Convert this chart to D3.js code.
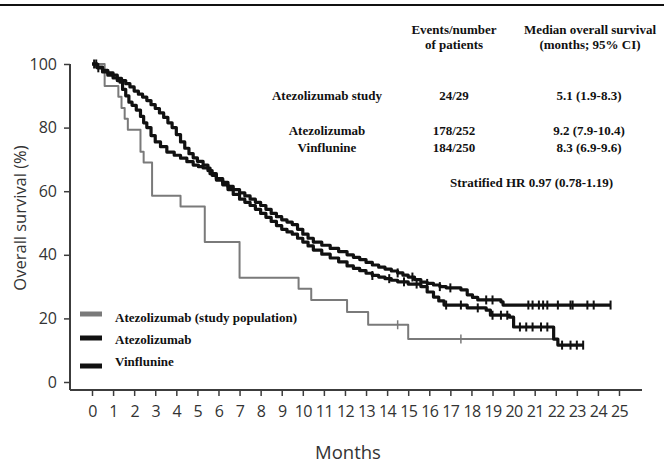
<!DOCTYPE html>
<html>
<head>
<meta charset="utf-8">
<script src="https://cdn.jsdelivr.net/npm/d3@7"></script>
<style>
  html, body { margin: 0; padding: 0; background: #fff; }
  svg { display: block; }
</style>
</head>
<body>
<svg id="chart"></svg>
<script>
// ---- values ----
const xTicks = [0,1,2,3,4,5,6,7,8,9,10,11,12,13,14,15,16,17,18,19,20,21,22,23,24,25];
const yTicks = [0,20,40,60,80,100];

// study population (gray), n = 29
const studyMonths = [0, 0.6, 1.25, 1.4, 1.55, 1.7, 2.3, 2.45, 2.85, 4.2, 5.35, 7.0, 9.8, 10.4, 12.1, 13.1, 15.0];
const studySurv   = [100, 93.1, 89.7, 86.2, 82.8, 79.3, 72.4, 69.0, 58.6, 55.2, 44.0, 32.8, 29.3, 25.8, 22.0, 18.0, 13.5];
const studyEnd = 22.0;
const studyCensor = [14.5, 17.5];

// atezolizumab (black), IMvigor211
const atezoMonths = [0, 0.25, 0.5, 0.75, 1.0, 1.2, 1.33, 1.45, 1.6, 1.75, 1.9, 2.1, 2.3, 2.45, 2.6, 2.8, 3.0, 3.25, 3.55, 3.9,
  4.2, 4.5, 4.8, 5.05, 5.27, 5.6, 5.9, 6.2, 6.45, 6.7, 7.0, 7.25, 7.5, 7.75, 8.0, 8.25, 8.5, 8.75, 9.0, 9.25,
  9.5, 9.75, 10.0, 10.25, 10.5, 10.9, 11.3, 11.7, 12.1, 12.4, 12.7, 13.0, 13.3, 13.6, 13.9, 14.2, 14.5, 14.75, 15.0, 15.3,
  15.6, 15.9, 16.2, 16.5, 16.8, 17.5, 17.8, 18.05, 18.3, 19.4, 19.5];
const atezoSurv = [100, 98.8, 97.5, 96.5, 95.6, 94.8, 94.3, 92, 90, 88, 87, 85.5, 83.5, 81.5, 80, 77.5, 75.5, 74, 72.3, 71.3,
  70.4, 69.3, 68.2, 67.7, 67.3, 65.5, 64, 62.8, 61.5, 60.5, 59.5, 58.5, 57.5, 56.5, 55.5, 54.3, 53, 52, 51, 50.3,
  49.5, 48, 46.5, 45.2, 44, 43, 42, 41, 40, 39.2, 38.5, 37.6, 36.8, 36.1, 35.5, 34.9, 34.3, 33.6, 33, 32.2,
  31.4, 31, 30.5, 30, 29.6, 29, 27.4, 26.6, 25.8, 25.2, 24.2];
const atezoEnd = 24.6;
const atezoCensor = [0.1, 0.3, 14.5, 15.2, 15.9, 16.5, 17.0, 18.7, 19.0, 20.7, 20.9, 21.2, 21.4, 21.6, 22.1, 22.7, 22.8, 23.5, 23.8, 24.6];

// vinflunine (black)
const vinfMonths = [0, 0.25, 0.5, 0.75, 1.0, 1.2, 1.4, 1.6, 1.8, 2.0, 2.2, 2.4, 2.6, 2.8, 3.0, 3.2, 3.4, 3.6, 3.8, 4.0,
  4.2, 4.4, 4.6, 4.8, 5.0, 5.27, 5.5, 5.7, 5.9, 6.2, 6.45, 6.7, 7.0, 7.25, 7.5, 7.75, 8.0, 8.25, 8.5, 8.75,
  9.0, 9.25, 9.5, 9.75, 10.0, 10.25, 10.5, 10.9, 11.3, 11.7, 12.1, 12.4, 12.7, 13.0, 13.3, 13.6, 13.9, 14.2, 14.5, 15.0,
  15.6, 15.9, 16.2, 16.45, 16.7, 17.8, 18.7, 18.9, 19.8, 20.0, 21.9, 22.1];
const vinfSurv = [100, 99, 98, 97.2, 96.5, 95.5, 94.8, 93.8, 92.8, 91.5, 90.5, 89.6, 88.5, 87.2, 86, 84.6, 83.2, 81.5, 80, 77.8,
  75.5, 73.5, 71.8, 70.5, 69.4, 68.2, 66.5, 65, 63.5, 62, 60.5, 59, 57.5, 56.5, 55.5, 54.3, 53, 51.8, 50.5, 49.2,
  48, 47.2, 46.5, 45.2, 44, 42.8, 41.5, 40.2, 39, 37.8, 36.5, 35.7, 35, 34.2, 33.5, 33, 32.5, 32, 31.5, 30.8,
  30, 28.3, 26.7, 25.5, 24.2, 23.3, 22.6, 21, 20.4, 17.3, 13.5, 11.6];
const vinfEnd = 23.3;
const vinfCensor = [0.2, 13.3, 14.1, 14.8, 15.4, 16.8, 17.5, 18.3, 19.0, 19.4, 19.7, 20.3, 20.6, 20.9, 21.3, 21.6, 22.3, 22.7, 23.0, 23.3];

const legendLabels = ["Atezolizumab (study population)", "Atezolizumab", "Vinflunine"];
const headerLines = [["Events/number", "of patients"], ["Median overall survival", "(months; 95% CI)"]];
const tableRows = [
  ["Atezolizumab study", "24/29", "5.1 (1.9-8.3)"],
  ["Atezolizumab", "178/252", "9.2 (7.9-10.4)"],
  ["Vinflunine", "184/250", "8.3 (6.9-9.6)"]
];
const hrLabel = "Stratified HR 0.97 (0.78-1.19)";

// ---- layout ----
const W = 664, H = 465;
const svg = d3.select('#chart').attr('width', W).attr('height', H);
const sans = '"Open Sans", sans-serif';
const serif = '"Liberation Serif", "Times New Roman", serif';
const axisCol = '#3c3c3c';

const x = d3.scaleLinear().domain([0, 25]).range([92, 619]);
const y = d3.scaleLinear().domain([0, 100]).range([382, 64]);
const axisX0 = 70, axisY0 = 390, axisXEnd = 642;

// top rule
svg.append('line').attr('x1', 0).attr('x2', W).attr('y1', 5).attr('y2', 5)
  .attr('stroke', '#111').attr('stroke-width', 2);

// axes lines
svg.append('line').attr('x1', axisX0).attr('x2', axisX0).attr('y1', y(100)).attr('y2', axisY0)
  .attr('stroke', axisCol).attr('stroke-width', 2);
svg.append('line').attr('x1', axisX0).attr('x2', axisXEnd).attr('y1', axisY0).attr('y2', axisY0)
  .attr('stroke', axisCol).attr('stroke-width', 2);

const yAxis = svg.append('g').attr('transform', `translate(${axisX0},0)`)
  .call(d3.axisLeft(y).tickValues(yTicks).tickSize(6).tickPadding(7));
const xAxis = svg.append('g').attr('transform', `translate(0,${axisY0})`)
  .call(d3.axisBottom(x).tickValues(xTicks).tickSize(6).tickPadding(10));
[yAxis, xAxis].forEach(g => {
  g.select('.domain').remove();
  g.selectAll('.tick line').attr('stroke', axisCol).attr('stroke-width', 1.5);
  g.selectAll('.tick text').attr('font-family', sans).attr('font-size', 16)
    .attr('fill', '#333');
});
xAxis.selectAll('.tick text').attr('letter-spacing', -0.6);

// axis titles
svg.append('text').attr('transform', 'translate(26,218) rotate(-90)')
  .attr('text-anchor', 'middle').attr('font-family', sans).attr('font-size', 16.5)
  .attr('fill', '#333').text('Overall survival (%)');
svg.append('text').attr('x', 348).attr('y', 459)
  .attr('text-anchor', 'middle').attr('font-family', sans).attr('font-size', 18.5)
  .attr('fill', '#333').text('Months');

// ---- curves ----
const series = [
  { months: studyMonths, surv: studySurv, end: studyEnd, censor: studyCensor, color: '#7a7a7a', width: 2 },
  { months: vinfMonths, surv: vinfSurv, end: vinfEnd, censor: vinfCensor, color: '#111', width: 3.2 },
  { months: atezoMonths, surv: atezoSurv, end: atezoEnd, censor: atezoCensor, color: '#111', width: 3.2 }
];

const line = d3.line().x(d => x(d[0])).y(d => y(d[1])).curve(d3.curveStepAfter);

// survival value of the step function at time t
function survAt(s, t) {
  let v = s.surv[0];
  s.months.forEach((m, i) => { if (m <= t) v = s.surv[i]; });
  return v;
}

series.forEach(s => {
  const pts = s.months.map((m, i) => [m, s.surv[i]]);
  pts.push([s.end, s.surv[s.surv.length - 1]]);
  svg.append('path').attr('d', line(pts)).attr('fill', 'none')
    .attr('stroke', s.color).attr('stroke-width', s.width)
    .attr('stroke-linejoin', 'round');
  svg.append('g').selectAll('line').data(s.censor).join('line')
    .attr('x1', d => x(d)).attr('x2', d => x(d))
    .attr('y1', d => y(survAt(s, d)) - 4.5).attr('y2', d => y(survAt(s, d)) + 4.5)
    .attr('stroke', s.color).attr('stroke-width', s.width > 2 ? 2 : 1.5);
});

// ---- legend ----
const legColors = ['#7a7a7a', '#111', '#111'];
const legSwatchY = [314, 338, 366];
const legTextY = [322, 344, 366];
legendLabels.forEach((lab, i) => {
  svg.append('line').attr('x1', 80).attr('x2', 102)
    .attr('y1', legSwatchY[i]).attr('y2', legSwatchY[i])
    .attr('stroke', legColors[i]).attr('stroke-width', 5);
  svg.append('text').attr('x', 115).attr('y', legTextY[i])
    .attr('font-family', serif).attr('font-weight', 'bold').attr('font-size', 13)
    .attr('fill', '#111').text(lab);
});

// ---- table of results ----
const colX = [327, 454, 589];
const headerX = [454, 590];
headerLines.forEach((lines, c) => {
  lines.forEach((t, r) => {
    svg.append('text').attr('x', headerX[c]).attr('y', 34 + r * 15)
      .attr('text-anchor', 'middle').attr('font-family', serif)
      .attr('font-weight', 'bold').attr('font-size', 13).attr('fill', '#111').text(t);
  });
});
const rowY = [100, 135, 152];
tableRows.forEach((row, r) => {
  row.forEach((t, c) => {
    svg.append('text').attr('x', colX[c]).attr('y', rowY[r])
      .attr('text-anchor', 'middle').attr('font-family', serif)
      .attr('font-weight', 'bold').attr('font-size', 13).attr('fill', '#111').text(t);
  });
});
svg.append('text').attr('x', 450).attr('y', 187)
  .attr('font-family', serif).attr('font-weight', 'bold').attr('font-size', 13)
  .attr('fill', '#111').text(hrLabel);
</script>
</body>
</html>
